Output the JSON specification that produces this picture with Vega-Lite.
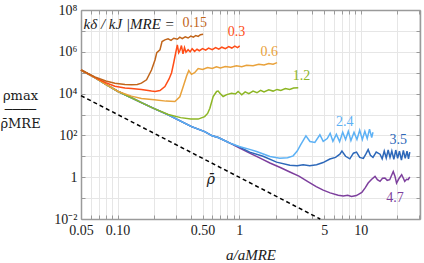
{
  "$schema": "https://vega.github.io/schema/vega-lite/v6.json",
  "width": 339,
  "height": 209,
  "autosize": {"type": "none"},
  "padding": {"left": 81, "top": 10, "right": 4, "bottom": 44},
  "background": "white",
  "config": {"view": {"stroke": null}, "font": "Liberation Serif"},
  "datasets": {
    "curves": [
      {"k":"4.7","a":0.05,"r":134900},{"k":"4.7","a":0.065,"r":57540},{"k":"4.7","a":0.08,"r":27540},{"k":"4.7","a":0.101,"r":12590},{"k":"4.7","a":0.13,"r":6310},{"k":"4.7","a":0.157,"r":3715},{"k":"4.7","a":0.2,"r":1905},{"k":"4.7","a":0.261,"r":955},{"k":"4.7","a":0.33,"r":479},{"k":"4.7","a":0.406,"r":263},{"k":"4.7","a":0.52,"r":151},{"k":"4.7","a":0.6,"r":95.5},{"k":"4.7","a":0.672,"r":79.4},{"k":"4.7","a":0.84,"r":42.7},
      {"k":"4.7","a":1.0,"r":25.1},{"k":"4.7","a":1.22,"r":14.1},{"k":"4.7","a":1.5,"r":7.94},{"k":"4.7","a":1.79,"r":4.79},{"k":"4.7","a":2.2,"r":2.82},{"k":"4.7","a":2.61,"r":1.78},{"k":"4.7","a":3.1,"r":1.12},{"k":"4.7","a":3.7,"r":0.6},{"k":"4.7","a":4.3,"r":0.355},{"k":"4.7","a":4.91,"r":0.24},{"k":"4.7","a":5.6,"r":0.178},{"k":"4.7","a":6.52,"r":0.138},{"k":"4.7","a":7.2,"r":0.126},{"k":"4.7","a":7.8,"r":0.135},{"k":"4.7","a":8.4,"r":0.12},{"k":"4.7","a":9.2,"r":0.132},{"k":"4.7","a":10.2,"r":0.186},{"k":"4.7","a":10.9,"r":0.316},{"k":"4.7","a":11.5,"r":0.525},{"k":"4.7","a":12.3,"r":0.794},{"k":"4.7","a":13.1,"r":1.096},{"k":"4.7","a":13.7,"r":0.759},{"k":"4.7","a":14.4,"r":0.631},{"k":"4.7","a":15.1,"r":0.891},{"k":"4.7","a":15.8,"r":0.912},{"k":"4.7","a":16.5,"r":0.708},{"k":"4.7","a":17.3,"r":0.759},{"k":"4.7","a":18.5,"r":1.862},{"k":"4.7","a":19.1,"r":1.122},{"k":"4.7","a":19.7,"r":0.525},{"k":"4.7","a":20.7,"r":0.891},{"k":"4.7","a":21.7,"r":1.318},{"k":"4.7","a":22.4,"r":0.891},{"k":"4.7","a":23,"r":0.631},{"k":"4.7","a":23.8,"r":0.794},{"k":"4.7","a":24.5,"r":0.759},{"k":"4.7","a":25.3,"r":1.023},
      {"k":"3.5","a":0.05,"r":134900},{"k":"3.5","a":0.065,"r":57540},{"k":"3.5","a":0.08,"r":27540},{"k":"3.5","a":0.101,"r":12590},{"k":"3.5","a":0.13,"r":6310},{"k":"3.5","a":0.157,"r":3715},{"k":"3.5","a":0.2,"r":1905},{"k":"3.5","a":0.261,"r":955},{"k":"3.5","a":0.33,"r":479},{"k":"3.5","a":0.406,"r":263},{"k":"3.5","a":0.52,"r":151},{"k":"3.5","a":0.6,"r":95.5},{"k":"3.5","a":0.672,"r":79.4},{"k":"3.5","a":0.84,"r":42.7},
      {"k":"3.5","a":1.0,"r":28.2},{"k":"3.5","a":1.22,"r":15.85},{"k":"3.5","a":1.57,"r":10},{"k":"3.5","a":2.03,"r":5.25},{"k":"3.5","a":2.61,"r":3.72},{"k":"3.5","a":3.0,"r":3.55},{"k":"3.5","a":3.36,"r":3.98},{"k":"3.5","a":3.8,"r":3.55},{"k":"3.5","a":4.33,"r":3.98},{"k":"3.5","a":4.9,"r":5.01},{"k":"3.5","a":5.57,"r":7.41},{"k":"3.5","a":6.2,"r":8.91},{"k":"3.5","a":6.73,"r":12.6},{"k":"3.5","a":7.0,"r":17.8},{"k":"3.5","a":7.5,"r":10},{"k":"3.5","a":8.13,"r":7.59},{"k":"3.5","a":8.7,"r":14.1},{"k":"3.5","a":9.23,"r":15.85},{"k":"3.5","a":9.8,"r":8.91},{"k":"3.5","a":10.5,"r":7.94},{"k":"3.5","a":11.0,"r":12.6},{"k":"3.5","a":11.5,"r":20.9},{"k":"3.5","a":12.0,"r":11.2},{"k":"3.5","a":12.6,"r":8.91},{"k":"3.5","a":13.4,"r":15.85},{"k":"3.5","a":14.4,"r":12.6},{"k":"3.5","a":15.0,"r":7.59},{"k":"3.5","a":15.6,"r":17.8},{"k":"3.5","a":16.2,"r":8.32},{"k":"3.5","a":16.8,"r":19.95},{"k":"3.5","a":17.4,"r":8.91},{"k":"3.5","a":18.0,"r":17.8},{"k":"3.5","a":18.7,"r":7.08},{"k":"3.5","a":19.4,"r":19.95},{"k":"3.5","a":20.1,"r":7.94},{"k":"3.5","a":20.8,"r":17.8},{"k":"3.5","a":21.6,"r":6.61},{"k":"3.5","a":22.4,"r":19.05},{"k":"3.5","a":23.2,"r":7.94},{"k":"3.5","a":24.0,"r":17.8},{"k":"3.5","a":24.7,"r":7.59},{"k":"3.5","a":25.3,"r":15.85},
      {"k":"2.4","a":0.05,"r":134900},{"k":"2.4","a":0.065,"r":57540},{"k":"2.4","a":0.08,"r":27540},{"k":"2.4","a":0.101,"r":12590},{"k":"2.4","a":0.13,"r":6310},{"k":"2.4","a":0.157,"r":3715},{"k":"2.4","a":0.2,"r":1905},{"k":"2.4","a":0.261,"r":955},{"k":"2.4","a":0.33,"r":479},{"k":"2.4","a":0.406,"r":263},{"k":"2.4","a":0.52,"r":151},{"k":"2.4","a":0.6,"r":95.5},{"k":"2.4","a":0.672,"r":79.4},{"k":"2.4","a":0.84,"r":42.7},
      {"k":"2.4","a":1.0,"r":29.5},{"k":"2.4","a":1.22,"r":21.4},{"k":"2.4","a":1.39,"r":17.0},{"k":"2.4","a":1.6,"r":12.6},{"k":"2.4","a":1.79,"r":9.77},{"k":"2.4","a":2.16,"r":8.13},{"k":"2.4","a":2.5,"r":8.51},{"k":"2.4","a":2.78,"r":10.5},{"k":"2.4","a":3.0,"r":17.8},{"k":"2.4","a":3.2,"r":35.5},{"k":"2.4","a":3.54,"r":95.5},{"k":"2.4","a":3.82,"r":51.3},{"k":"2.4","a":4.19,"r":45.7},{"k":"2.4","a":4.61,"r":107},{"k":"2.4","a":4.91,"r":51.3},{"k":"2.4","a":5.3,"r":70.8},{"k":"2.4","a":5.6,"r":126},{"k":"2.4","a":5.9,"r":52.5},{"k":"2.4","a":6.3,"r":112},{"k":"2.4","a":6.7,"r":50.1},{"k":"2.4","a":7.1,"r":141},{"k":"2.4","a":7.5,"r":63.1},{"k":"2.4","a":7.9,"r":158},{"k":"2.4","a":8.3,"r":56.2},{"k":"2.4","a":8.8,"r":141},{"k":"2.4","a":9.3,"r":63.1},{"k":"2.4","a":9.8,"r":178},{"k":"2.4","a":10.3,"r":63.1},{"k":"2.4","a":10.8,"r":158},{"k":"2.4","a":11.3,"r":70.8},{"k":"2.4","a":11.8,"r":200},{"k":"2.4","a":12.3,"r":79.4},{"k":"2.4","a":12.6,"r":141},
      {"k":"1.2","a":0.05,"r":134900},{"k":"1.2","a":0.065,"r":57540},{"k":"1.2","a":0.08,"r":27540},{"k":"1.2","a":0.101,"r":12590},{"k":"1.2","a":0.13,"r":6310},{"k":"1.2","a":0.157,"r":3715},{"k":"1.2","a":0.2,"r":1905},
      {"k":"1.2","a":0.261,"r":1000},{"k":"1.2","a":0.33,"r":708},{"k":"1.2","a":0.4,"r":617},{"k":"1.2","a":0.46,"r":603},{"k":"1.2","a":0.52,"r":794},{"k":"1.2","a":0.55,"r":1122},{"k":"1.2","a":0.574,"r":1995},{"k":"1.2","a":0.611,"r":7244},{"k":"1.2","a":0.652,"r":12590},{"k":"1.2","a":0.672,"r":13180},{"k":"1.2","a":0.694,"r":10470},{"k":"1.2","a":0.738,"r":7244},{"k":"1.2","a":0.79,"r":8913},{"k":"1.2","a":0.866,"r":10470},{"k":"1.2","a":0.93,"r":9550},{"k":"1.2","a":0.98,"r":12590},{"k":"1.2","a":1.05,"r":8710},{"k":"1.2","a":1.12,"r":12020},{"k":"1.2","a":1.2,"r":10000},{"k":"1.2","a":1.3,"r":13180},{"k":"1.2","a":1.4,"r":10960},{"k":"1.2","a":1.5,"r":14450},{"k":"1.2","a":1.6,"r":12020},{"k":"1.2","a":1.75,"r":15140},{"k":"1.2","a":1.9,"r":13180},{"k":"1.2","a":2.05,"r":15850},{"k":"1.2","a":2.2,"r":14130},{"k":"1.2","a":2.4,"r":17380},{"k":"1.2","a":2.6,"r":15850},{"k":"1.2","a":2.8,"r":18620},{"k":"1.2","a":3.06,"r":19050},
      {"k":"0.6","a":0.05,"r":134900},{"k":"0.6","a":0.065,"r":57540},{"k":"0.6","a":0.08,"r":27540},{"k":"0.6","a":0.101,"r":12590},
      {"k":"0.6","a":0.13,"r":7586},{"k":"0.6","a":0.157,"r":5888},{"k":"0.6","a":0.2,"r":5012},{"k":"0.6","a":0.25,"r":4365},{"k":"0.6","a":0.296,"r":4169},{"k":"0.6","a":0.325,"r":7079},{"k":"0.6","a":0.345,"r":19950},{"k":"0.6","a":0.37,"r":70790},{"k":"0.6","a":0.385,"r":125900},{"k":"0.6","a":0.405,"r":83180},{"k":"0.6","a":0.43,"r":100000},{"k":"0.6","a":0.46,"r":158500},{"k":"0.6","a":0.5,"r":141300},{"k":"0.6","a":0.55,"r":177800},{"k":"0.6","a":0.6,"r":158500},{"k":"0.6","a":0.65,"r":190500},{"k":"0.6","a":0.7,"r":169800},{"k":"0.6","a":0.77,"r":199500},{"k":"0.6","a":0.85,"r":182000},{"k":"0.6","a":0.95,"r":213800},{"k":"0.6","a":1.05,"r":195000},{"k":"0.6","a":1.15,"r":229100},{"k":"0.6","a":1.3,"r":213800},{"k":"0.6","a":1.45,"r":251200},{"k":"0.6","a":1.6,"r":234400},{"k":"0.6","a":1.75,"r":275400},{"k":"0.6","a":1.9,"r":257000},{"k":"0.6","a":2.05,"r":302000},
      {"k":"0.3","a":0.05,"r":134900},{"k":"0.3","a":0.065,"r":60260},{"k":"0.3","a":0.08,"r":33110},{"k":"0.3","a":0.095,"r":22390},{"k":"0.3","a":0.115,"r":18620},{"k":"0.3","a":0.13,"r":17380},{"k":"0.3","a":0.157,"r":15850},{"k":"0.3","a":0.19,"r":13180},{"k":"0.3","a":0.203,"r":12590},{"k":"0.3","a":0.223,"r":14130},{"k":"0.3","a":0.245,"r":21880},{"k":"0.3","a":0.265,"r":50120},{"k":"0.3","a":0.278,"r":100000},{"k":"0.3","a":0.29,"r":316200},{"k":"0.3","a":0.3,"r":851100},{"k":"0.3","a":0.31,"r":2138000},{"k":"0.3","a":0.318,"r":891300},{"k":"0.3","a":0.325,"r":1122000},{"k":"0.3","a":0.335,"r":1995000},{"k":"0.3","a":0.345,"r":794300},{"k":"0.3","a":0.355,"r":1585000},{"k":"0.3","a":0.365,"r":955000},{"k":"0.3","a":0.38,"r":1259000},{"k":"0.3","a":0.395,"r":1000000},{"k":"0.3","a":0.41,"r":1413000},{"k":"0.3","a":0.43,"r":1047000},{"k":"0.3","a":0.45,"r":1318000},{"k":"0.3","a":0.47,"r":1122000},{"k":"0.3","a":0.5,"r":1413000},{"k":"0.3","a":0.53,"r":1202000},{"k":"0.3","a":0.56,"r":1514000},{"k":"0.3","a":0.6,"r":1259000},{"k":"0.3","a":0.64,"r":1585000},{"k":"0.3","a":0.68,"r":1349000},{"k":"0.3","a":0.72,"r":1660000},{"k":"0.3","a":0.77,"r":1413000},{"k":"0.3","a":0.82,"r":1778000},{"k":"0.3","a":0.87,"r":1514000},{"k":"0.3","a":0.92,"r":1862000},{"k":"0.3","a":0.97,"r":1585000},{"k":"0.3","a":1.01,"r":1905000},
      {"k":"0.15","a":0.05,"r":134900},{"k":"0.15","a":0.065,"r":63100},{"k":"0.15","a":0.08,"r":39810},{"k":"0.15","a":0.095,"r":31620},{"k":"0.15","a":0.115,"r":27540},{"k":"0.15","a":0.13,"r":26300},{"k":"0.15","a":0.145,"r":27540},{"k":"0.15","a":0.157,"r":31620},{"k":"0.15","a":0.173,"r":45710},{"k":"0.15","a":0.19,"r":134900},{"k":"0.15","a":0.203,"r":407400},{"k":"0.15","a":0.21,"r":912000},{"k":"0.15","a":0.223,"r":1230000},{"k":"0.15","a":0.232,"r":3090000},{"k":"0.15","a":0.245,"r":3715000},{"k":"0.15","a":0.26,"r":4169000},{"k":"0.15","a":0.275,"r":3548000},{"k":"0.15","a":0.29,"r":4467000},{"k":"0.15","a":0.31,"r":3981000},{"k":"0.15","a":0.325,"r":5012000},{"k":"0.15","a":0.34,"r":4266000},{"k":"0.15","a":0.36,"r":5248000},{"k":"0.15","a":0.38,"r":4571000},{"k":"0.15","a":0.4,"r":5623000},{"k":"0.15","a":0.42,"r":5012000},{"k":"0.15","a":0.44,"r":6026000},{"k":"0.15","a":0.46,"r":5495000},{"k":"0.15","a":0.48,"r":6607000},{"k":"0.15","a":0.505,"r":6918000}
    ],
    "labels": [
      {"k":"0.15","a":0.432,"r":2.3e7,"t":"0.15"},
      {"k":"0.3","a":0.95,"r":9.1e6,"t":"0.3"},
      {"k":"0.6","a":1.77,"r":1.0e6,"t":"0.6"},
      {"k":"1.2","a":3.26,"r":7.1e4,"t":"1.2"},
      {"k":"2.4","a":7.4,"r":460,"t":"2.4"},
      {"k":"3.5","a":20.3,"r":62,"t":"3.5"},
      {"k":"4.7","a":19.1,"r":0.1,"t":"4.7"}
    ],
    "mean": [{"a":0.05,"r":8000},{"a":4.64,"r":0.01}],
    "knote": [{"a":0.295,"r":2.2e7,"t":"kδ / kJ |MRE ="}],
    "rhonote": [{"a":0.585,"r":0.75,"t":"ρ̄"}]
  },
  "resolve": {"axis": {"x": "independent", "y": "independent"}},
  "layer": [
    {
      "data": {"name": "curves"},
      "mark": {"type": "line", "strokeWidth": 1.5},
      "encoding": {
        "x": {"field": "a", "type": "quantitative",
          "scale": {"type": "log", "domain": [0.05, 30.7], "nice": false},
          "axis": {"orient": "bottom", "values": [0.05,0.06,0.07,0.08,0.09,0.1,0.2,0.3,0.4,0.5,0.6,0.7,0.8,0.9,1,2,3,4,5,6,7,8,9,10,20,30],
            "labelExpr": "datum.value == 0.05 ? '0.05' : datum.value == 0.1 ? '0.10' : datum.value == 0.5 ? '0.50' : datum.value == 1 ? '1' : datum.value == 5 ? '5' : datum.value == 10 ? '10' : ''",
            "grid": true, "gridColor": "#e6e6e6", "gridWidth": 1,
            "domainColor": "#9a9a9a", "domainWidth": 1.5,
            "tickColor": "#9a9a9a", "tickSize": -4, "tickWidth": 1,
            "labelPadding": 8, "labelFont": "Liberation Serif", "labelFontSize": 14, "labelColor": "#1a1a1a", "labelFlush": false, "labelOverlap": false,
            "title": "a/aMRE", "titleFont": "Liberation Serif", "titleFontSize": 15, "titleFontWeight": "normal", "titleFontStyle": "italic", "titleColor": "#1a1a1a", "titlePadding": 10}
        },
        "y": {"field": "r", "type": "quantitative",
          "scale": {"type": "log", "domain": [0.01, 1e8], "nice": false},
          "axis": {"orient": "left", "values": [0.01,0.1,1,10,100,1000,10000,100000,1000000,10000000,100000000],
            "labelExpr": "datum.value == 1e8 ? '10⁸' : datum.value == 1e6 ? '10⁶' : datum.value == 1e4 ? '10⁴' : datum.value == 100 ? '10²' : datum.value == 1 ? '1' : datum.value == 0.01 ? '10⁻²' : ''",
            "grid": true, "gridColor": "#e6e6e6", "gridWidth": 1,
            "domainColor": "#9a9a9a", "domainWidth": 1.5,
            "tickColor": "#9a9a9a", "tickSize": -4, "tickWidth": 1,
            "labelPadding": 8, "labelFont": "Liberation Serif", "labelFontSize": 14, "labelColor": "#1a1a1a", "labelFlush": false, "labelOverlap": false, "labelBaseline": "middle",
            "title": ["ρmax", "────", "ρ̄MRE"], "titleAngle": 0, "titleAlign": "center", "titleBaseline": "top", "titleX": -61, "titleY": 79, "titleLineHeight": 14,
            "titleFont": "DejaVu Serif", "titleFontSize": 13, "titleFontWeight": "normal", "titleColor": "#1a1a1a"}
        },
        "color": {"field": "k", "type": "nominal", "legend": null,
          "scale": {"domain": ["0.15","0.3","0.6","1.2","2.4","3.5","4.7"],
                    "range": ["#c1651a","#ff4d17","#e9a23b","#8db624","#5cb1f5","#2d68b9","#7d3f9d"]}}
      }
    },
    {
      "data": {"name": "mean"},
      "mark": {"type": "line", "color": "black", "strokeWidth": 1.5, "strokeDash": [4, 3]},
      "encoding": {
        "x": {"field": "a", "type": "quantitative",
          "axis": {"orient": "top", "values": [0.05,0.06,0.07,0.08,0.09,0.1,0.2,0.3,0.4,0.5,0.6,0.7,0.8,0.9,1,2,3,4,5,6,7,8,9,10,20,30],
            "labels": false, "grid": false, "title": null,
            "domainColor": "#9a9a9a", "domainWidth": 1.5, "tickColor": "#9a9a9a", "tickSize": -4, "tickWidth": 1}},
        "y": {"field": "r", "type": "quantitative",
          "axis": {"orient": "right", "values": [0.01,0.1,1,10,100,1000,10000,100000,1000000,10000000,100000000],
            "labels": false, "grid": false, "title": null,
            "domainColor": "#9a9a9a", "domainWidth": 1.5, "tickColor": "#9a9a9a", "tickSize": -4, "tickWidth": 1}}
      }
    },
    {
      "data": {"name": "labels"},
      "mark": {"type": "text", "font": "Liberation Serif", "fontSize": 14, "align": "center", "baseline": "middle"},
      "encoding": {
        "x": {"field": "a", "type": "quantitative", "axis": null},
        "y": {"field": "r", "type": "quantitative", "axis": null},
        "text": {"field": "t"},
        "color": {"field": "k", "type": "nominal", "legend": null}
      }
    },
    {
      "data": {"name": "knote"},
      "mark": {"type": "text", "font": "Liberation Serif", "fontSize": 15, "fontStyle": "italic", "align": "right", "baseline": "middle", "color": "#1a1a1a"},
      "encoding": {
        "x": {"field": "a", "type": "quantitative", "axis": null},
        "y": {"field": "r", "type": "quantitative", "axis": null},
        "text": {"field": "t"}
      }
    },
    {
      "data": {"name": "rhonote"},
      "mark": {"type": "text", "font": "DejaVu Serif", "fontSize": 14, "fontStyle": "italic", "align": "center", "baseline": "middle", "color": "#1a1a1a"},
      "encoding": {
        "x": {"field": "a", "type": "quantitative", "axis": null},
        "y": {"field": "r", "type": "quantitative", "axis": null},
        "text": {"field": "t"}
      }
    }
  ]
}
